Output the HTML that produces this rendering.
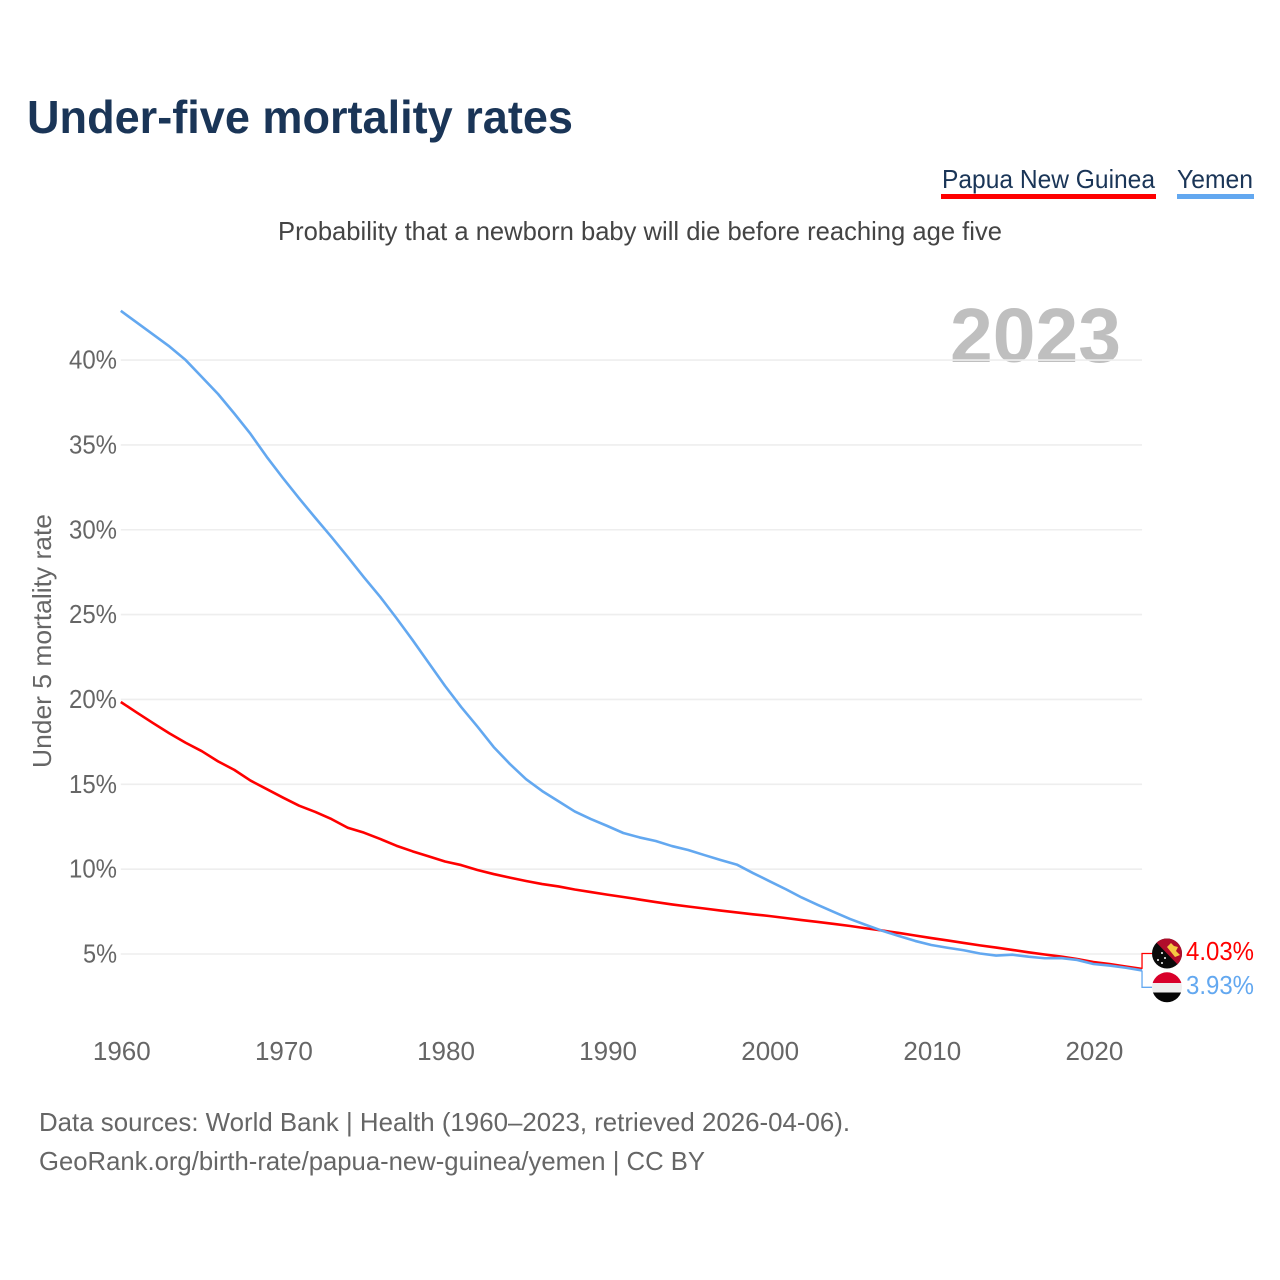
<!DOCTYPE html>
<html lang="en">
<head>
<meta charset="utf-8">
<title>Under-five mortality rates</title>
<style>
html,body{margin:0;padding:0;background:#fff}
svg{display:block;font-family:"Liberation Sans",sans-serif}
</style>
</head>
<body>
<svg id="chart" xmlns="http://www.w3.org/2000/svg" width="1280" height="1280" viewBox="0 0 1280 1280">
  <defs>
    <clipPath id="clip-png"><circle cx="1167" cy="953.5" r="15"/></clipPath>
    <clipPath id="clip-yem"><circle cx="1167" cy="987.3" r="15"/></clipPath>
  </defs>
  <rect x="0" y="0" width="1280" height="1280" fill="#fff"/>
  <text x="27" y="133" font-size="46" font-weight="700" fill="#1a3557" textLength="546" lengthAdjust="spacingAndGlyphs">Under-five mortality rates</text>
  <g>
    <text x="942" y="188" font-size="26" fill="#1a3557" textLength="213" lengthAdjust="spacingAndGlyphs">Papua New Guinea</text>
    <rect x="941" y="194" width="215" height="5" fill="#ff0000"/>
  </g>
  <g>
    <text x="1177" y="188" font-size="26" fill="#1a3557" textLength="76" lengthAdjust="spacingAndGlyphs">Yemen</text>
    <rect x="1177" y="194" width="77" height="5" fill="#63a8f0"/>
  </g>
  <text x="278" y="240" font-size="26" fill="#444" textLength="724" lengthAdjust="spacingAndGlyphs">Probability that a newborn baby will die before reaching age five</text>
  <text x="950" y="362" font-size="77" font-weight="700" fill="#bfbfbf" textLength="171" lengthAdjust="spacingAndGlyphs">2023</text>
  <text transform="translate(51,768) rotate(-90)" x="0" y="0" font-size="26" fill="#666" textLength="254" lengthAdjust="spacingAndGlyphs">Under 5 mortality rate</text>
  <g id="grid"></g>
  <g id="yticks"></g>
  <g id="xticks"></g>
  <g id="series"></g>
  <g clip-path="url(#clip-png)">
    <rect x="1152" y="938" width="30" height="31" fill="#0a0a0a"/>
    <polygon points="1152,938 1182,938 1182,969" fill="#b00d2b"/>
    <polygon points="1167,947 1171,943 1174,946 1178,947 1176,951 1180,955 1175,957 1171,952" fill="#f5c842"/>
    <circle cx="1162" cy="953" r="1" fill="#fff"/>
    <circle cx="1158" cy="960" r="1" fill="#fff"/>
    <circle cx="1165" cy="958" r="1" fill="#fff"/>
    <circle cx="1162" cy="963" r="1" fill="#fff"/>
  </g>
  <g clip-path="url(#clip-yem)">
    <rect x="1152" y="972" width="30" height="11" fill="#d8002a"/>
    <rect x="1152" y="983" width="30" height="9.5" fill="#eeeeee"/>
    <rect x="1152" y="992.5" width="30" height="11" fill="#050505"/>
  </g>
  <text id="label-png" x="1186" y="960" font-size="26" fill="#ff0000" textLength="68" lengthAdjust="spacingAndGlyphs"></text>
  <text id="label-yem" x="1186" y="994" font-size="26" fill="#63a8f0" textLength="68" lengthAdjust="spacingAndGlyphs"></text>
  <text x="39" y="1131" font-size="26" fill="#666" textLength="811" lengthAdjust="spacingAndGlyphs">Data sources: World Bank | Health (1960–2023, retrieved 2026-04-06).</text>
  <text x="39" y="1170" font-size="26" fill="#666" textLength="666" lengthAdjust="spacingAndGlyphs">GeoRank.org/birth-rate/papua-new-guinea/yemen | CC BY</text>
</svg>
<script>
const years = [1960,1961,1962,1963,1964,1965,1966,1967,1968,1969,1970,1971,1972,1973,1974,1975,1976,1977,1978,1979,1980,1981,1982,1983,1984,1985,1986,1987,1988,1989,1990,1991,1992,1993,1994,1995,1996,1997,1998,1999,2000,2001,2002,2003,2004,2005,2006,2007,2008,2009,2010,2011,2012,2013,2014,2015,2016,2017,2018,2019,2020,2021,2022,2023];
const yemenValues = [42.9,42.2,41.5,40.8,40.0,39.0,38.0,36.85,35.65,34.3,33.05,31.85,30.7,29.57,28.4,27.2,26.05,24.8,23.5,22.15,20.8,19.55,18.4,17.2,16.2,15.3,14.6,14.0,13.4,12.95,12.55,12.13,11.87,11.66,11.36,11.13,10.83,10.54,10.27,9.77,9.3,8.83,8.33,7.89,7.47,7.06,6.7,6.36,6.06,5.77,5.53,5.37,5.22,5.03,4.91,4.96,4.84,4.75,4.76,4.65,4.41,4.32,4.19,4.03];
const papuaValues = [19.85,19.22,18.6,18.0,17.45,16.95,16.35,15.85,15.22,14.72,14.22,13.74,13.37,12.95,12.44,12.15,11.78,11.38,11.05,10.75,10.45,10.24,9.95,9.71,9.5,9.3,9.12,8.98,8.8,8.65,8.5,8.36,8.21,8.06,7.92,7.8,7.68,7.56,7.45,7.34,7.24,7.12,7.0,6.89,6.77,6.65,6.51,6.38,6.24,6.09,5.94,5.8,5.65,5.51,5.38,5.24,5.1,4.97,4.85,4.7,4.53,4.41,4.26,4.12];
const yTickValues = [5,10,15,20,25,30,35,40];
const xTickYears = [1960,1970,1980,1990,2000,2010,2020];
const endLabelPapua = "4.03%";
const endLabelYemen = "3.93%";

const NS = "http://www.w3.org/2000/svg";
const xScale = function (year) { return 120.8 + (year - 1960) * 16.21; };
const yScale = function (value) { return 954 - (value - 5) * 16.97; };

const gridGroup = document.getElementById("grid");
const yTickGroup = document.getElementById("yticks");
const xTickGroup = document.getElementById("xticks");
const seriesGroup = document.getElementById("series");

yTickValues.forEach(function (v) {
  const line = document.createElementNS(NS, "line");
  
  
  line.setAttribute("x1", xScale(1960));
  line.setAttribute("x2", xScale(2023));
  line.setAttribute("y1", yScale(v));
  line.setAttribute("y2", yScale(v));
  line.setAttribute("stroke", "#eeeeee");
  line.setAttribute("stroke-width", "1.6");
  gridGroup.appendChild(line);

  const label = document.createElementNS(NS, "text");
  
  
  const w = v < 10 ? 34 : 48;
  label.setAttribute("x", 117 - w);
  label.setAttribute("y", yScale(v) + 8.5);
  label.setAttribute("font-size", "26");
  label.setAttribute("fill", "#666");
  label.setAttribute("textLength", w);
  label.setAttribute("lengthAdjust", "spacingAndGlyphs");
  label.textContent = v + "%";
  yTickGroup.appendChild(label);
});

xTickYears.forEach(function (yr) {
  const label = document.createElementNS(NS, "text");
  
  
  label.setAttribute("x", xScale(yr) + 1);
  label.setAttribute("y", 1060);
  label.setAttribute("font-size", "26");
  label.setAttribute("fill", "#666");
  label.setAttribute("text-anchor", "middle");
  label.textContent = yr;
  xTickGroup.appendChild(label);
});

function pathFrom(values) {
  return values.map(function (v, i) {
    return (i ? "L" : "M") + xScale(years[i]).toFixed(2) + " " + yScale(v).toFixed(2);
  }).join(" ");
}

const papuaLine = document.createElementNS(NS, "path");


papuaLine.setAttribute("d", pathFrom(papuaValues));
papuaLine.setAttribute("fill", "none");
papuaLine.setAttribute("stroke", "#ff0000");
papuaLine.setAttribute("stroke-width", "2.6");
papuaLine.setAttribute("stroke-linejoin", "round");
seriesGroup.appendChild(papuaLine);

const yemenLine = document.createElementNS(NS, "path");


yemenLine.setAttribute("d", pathFrom(yemenValues));
yemenLine.setAttribute("fill", "none");
yemenLine.setAttribute("stroke", "#63a8f0");
yemenLine.setAttribute("stroke-width", "2.6");
yemenLine.setAttribute("stroke-linejoin", "round");
seriesGroup.appendChild(yemenLine);

const papuaLeader = document.createElementNS(NS, "polyline");


papuaLeader.setAttribute("points", xScale(2023) + "," + yScale(papuaValues[63]) + " " + xScale(2023) + ",953.5 1152,953.5");
papuaLeader.setAttribute("fill", "none");
papuaLeader.setAttribute("stroke", "#ff0000");
papuaLeader.setAttribute("stroke-width", "1.3");
seriesGroup.appendChild(papuaLeader);

const yemenLeader = document.createElementNS(NS, "polyline");


yemenLeader.setAttribute("points", xScale(2023) + "," + yScale(yemenValues[63]) + " " + xScale(2023) + ",987.3 1152,987.3");
yemenLeader.setAttribute("fill", "none");
yemenLeader.setAttribute("stroke", "#63a8f0");
yemenLeader.setAttribute("stroke-width", "1.3");
seriesGroup.appendChild(yemenLeader);

document.getElementById("label-png").textContent = endLabelPapua;
document.getElementById("label-yem").textContent = endLabelYemen;
</script>
</body>
</html>
